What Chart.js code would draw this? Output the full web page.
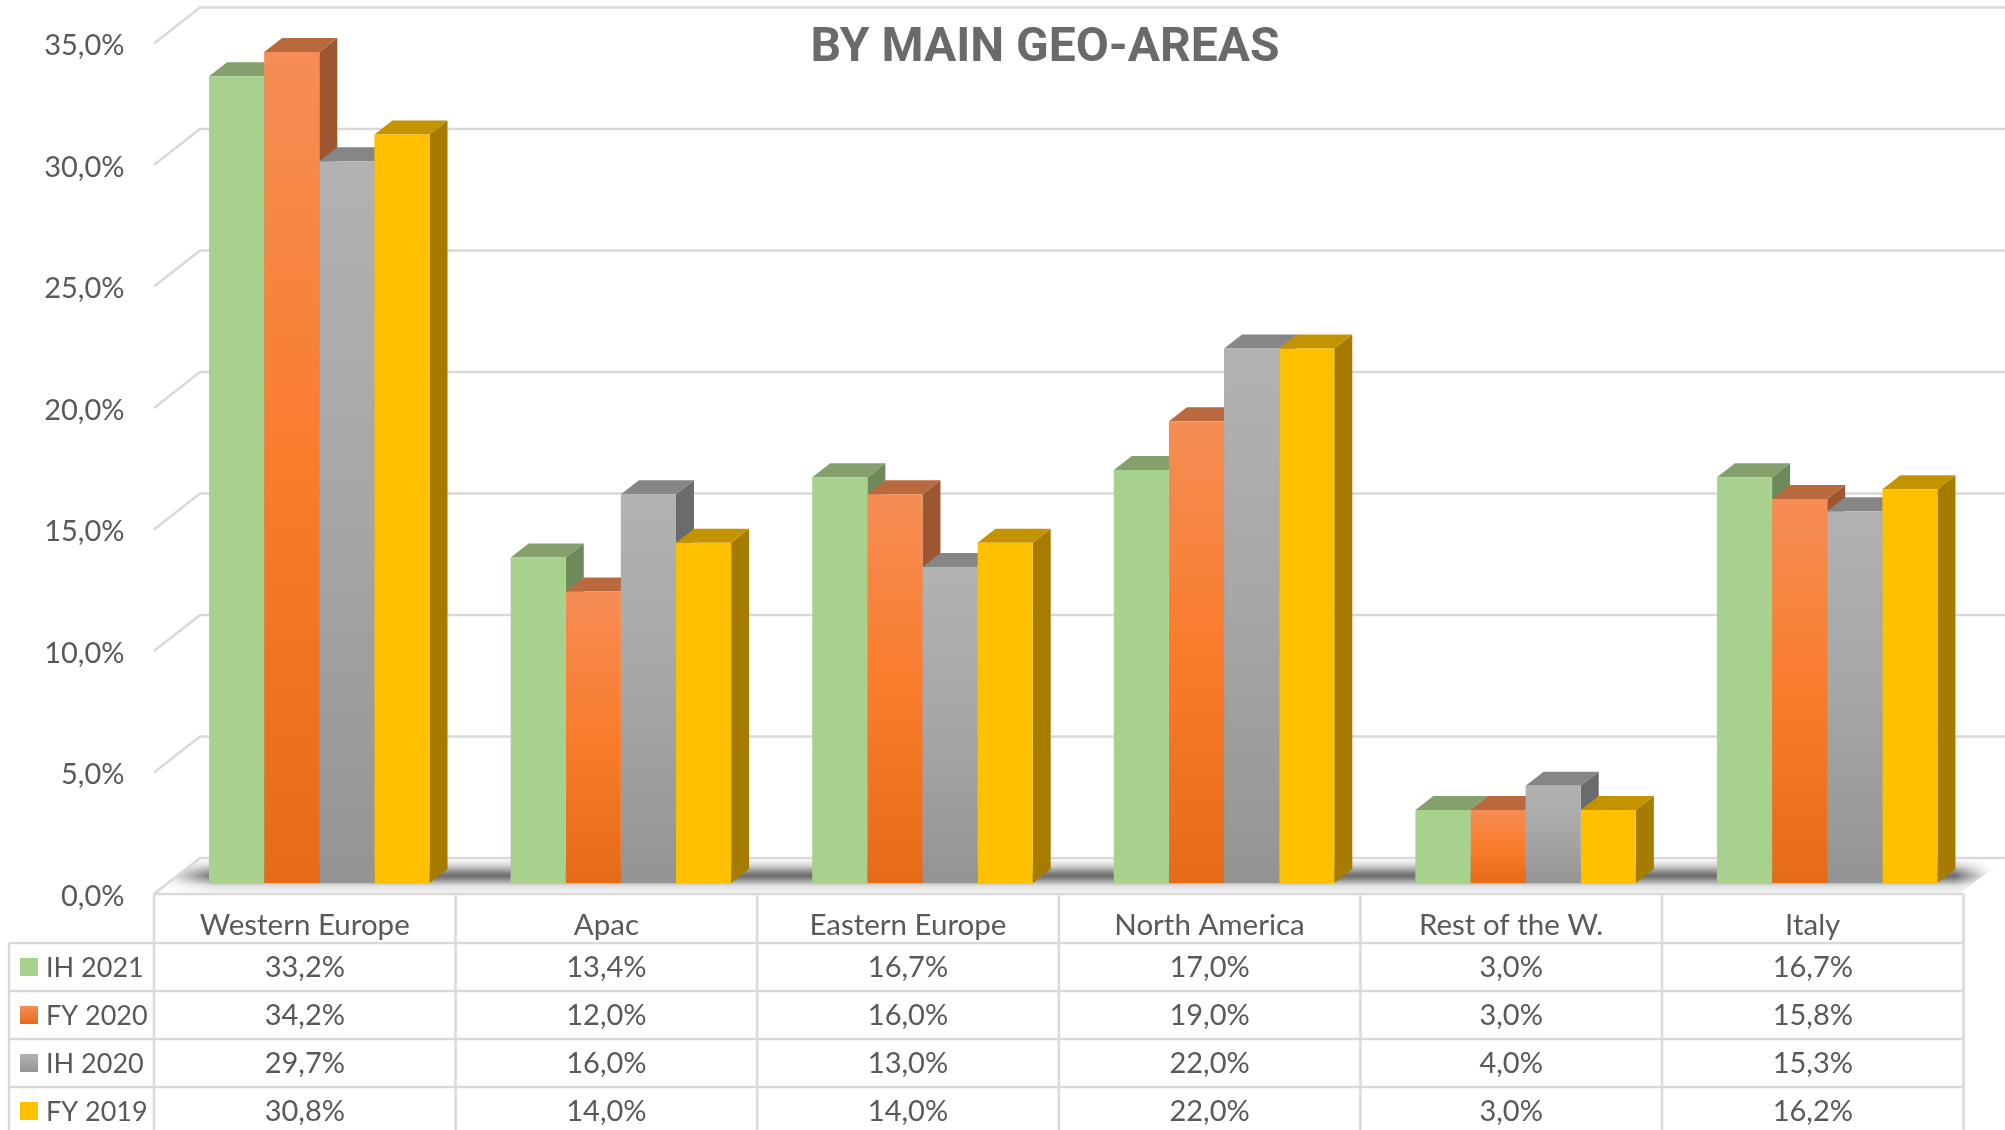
<!DOCTYPE html>
<html><head><meta charset="utf-8">
<style>html,body{margin:0;padding:0;background:#fff}canvas{display:block}</style>
<script src="https://cdn.jsdelivr.net/npm/chart.js@4"></script>
</head><body><canvas id="c" width="2005" height="1130"></canvas>
<script>
const categories = ["Western Europe","Apac","Eastern Europe","North America","Rest of the W.","Italy"];
const seriesNames = ["IH 2021","FY 2020","IH 2020","FY 2019"];
const ih2021 = [33.2,13.4,16.7,17.0,3.0,16.7];
const fy2020 = [34.2,12.0,16.0,19.0,3.0,15.8];
const ih2020 = [29.7,16.0,13.0,22.0,4.0,15.3];
const fy2019 = [30.8,14.0,14.0,22.0,3.0,16.2];
const titleText = "BY MAIN GEO-AREAS";
const colTop = ["#83A06D","#B9693D","#868686","#C49300"];
const colSide = ["#6E8A5A","#9C5730","#6B6B6B","#A67C00"];
const GRID="#D9D9D9", TEXT="#595959";
const FONT='Lato, "Open Sans", sans-serif';
const fmt=v=>v.toFixed(1).replace('.',',')+'%';
const canvas=document.getElementById('c');
const ctx=canvas.getContext('2d');
const gradStops=[null,["#F58D55","#F97C2C","#E46C18"],["#B2B2B2","#A6A6A6","#949494"],null];
const flat=["#A9D18E",null,null,"#FFC000"];
function barFill(i){return (c)=>{
  if(flat[i]) return flat[i];
  if(!c.parsed) return gradStops[i][1];
  const ys=c.chart.scales.y,t=ys.getPixelForValue(c.parsed.y),b=ys.getPixelForValue(0);
  if(!isFinite(t)||!isFinite(b)) return gradStops[i][1];
  const g=c.chart.ctx.createLinearGradient(0,t,0,b);
  g.addColorStop(0,gradStops[i][0]);g.addColorStop(.5,gradStops[i][1]);g.addColorStop(1,gradStops[i][2]);
  return g;};}
const allSeries=[ih2021,fy2020,ih2020,fy2019];
const DX=18,DY=14,PLOT_TOP=32.5,PLOT_BOTTOM=883;
const back3d={id:'back3d',
 afterLayout(ch){
  const ys=ch.scales.y;
  ys.top=PLOT_TOP;ys.bottom=PLOT_BOTTOM;ys.height=PLOT_BOTTOM-PLOT_TOP;ys.configure();
  ch.chartArea.top=PLOT_TOP;ch.chartArea.bottom=PLOT_BOTTOM;ch.chartArea.height=PLOT_BOTTOM-PLOT_TOP;
 },
 beforeDatasetsDraw(ch){
  const c=ch.ctx,ys=ch.scales.y;
  c.save();
  c.beginPath();c.moveTo(154,893);c.lineTo(200,858);c.lineTo(2005,858);c.lineTo(1960,893);c.closePath();c.clip();
  let g=c.createLinearGradient(0,858,0,893);
  [[0,'#ffffff'],[.06,'#f7f7f7'],[.23,'#d0d0d0'],[.4,'#8e8e8e'],[.49,'#6e6e6e'],[.57,'#7c7c7c'],[.69,'#b2b2b2'],[.8,'#e2e2e2'],[1,'#f4f4f4']].forEach(s=>g.addColorStop(s[0],s[1]));
  c.fillStyle=g;c.fillRect(150,858,1855,35);
  g=c.createLinearGradient(165,0,215,0);g.addColorStop(0,'rgba(255,255,255,1)');g.addColorStop(1,'rgba(255,255,255,0)');
  c.fillStyle=g;c.fillRect(150,858,65,35);
  g=c.createLinearGradient(1955,0,1990,0);g.addColorStop(0,'rgba(255,255,255,0)');g.addColorStop(1,'rgba(255,255,255,1)');
  c.fillStyle=g;c.fillRect(1955,858,50,35);
  c.restore();
  c.save();
  c.strokeStyle=GRID;c.lineWidth=2.5;
  ys.ticks.forEach(t=>{const y=ys.getPixelForValue(t.value);
    c.beginPath();c.moveTo(154,y+11);c.lineTo(200,y-25);c.lineTo(2005,y-25);c.stroke();});
  const metas=ch.getSortedVisibleDatasetMetas();
  for(let i=0;i<categories.length;i++){
    metas.forEach((m,s)=>{
      const b=m.data[i],w=b.width,l=b.x-w/2,r=b.x+w/2,t=b.y,bs=b.base;
      c.fillStyle=colSide[s];c.beginPath();c.moveTo(r,t);c.lineTo(r+DX,t-DY);c.lineTo(r+DX,bs-DY);c.lineTo(r,bs);c.closePath();c.fill();
      c.fillStyle=colTop[s];c.beginPath();c.moveTo(l,t);c.lineTo(l+DX,t-DY);c.lineTo(r+DX,t-DY);c.lineTo(r,t);c.closePath();c.fill();
    });
  }
  c.restore();
}};
const table={id:'table',afterDraw(ch){
  const c=ch.ctx;c.save();
  const L=154,CW=301.6,R=L+6*CW,rows=[943,991,1039,1087];
  c.strokeStyle=GRID;c.lineWidth=2.5;
  c.beginPath();c.moveTo(L,894);c.lineTo(R,894);
  rows.forEach(y=>{c.moveTo(9,y);c.lineTo(R,y);});
  for(let k=0;k<=6;k++){c.moveTo(L+k*CW,894);c.lineTo(L+k*CW,1130);}
  c.moveTo(9,943);c.lineTo(9,1130);c.stroke();
  c.fillStyle=TEXT;c.textBaseline='middle';
  rows.forEach((y,r)=>{
    const cy=y+25;
    c.textAlign='center';c.font='29px '+FONT;c.fillStyle=TEXT;
    allSeries[r].forEach((v,k)=>c.fillText(fmt(v),L+(k+.5)*CW,cy));
    c.textAlign='left';c.font='27px '+FONT;c.fillText(seriesNames[r],46,cy);
    const sy=y+15;let f=flat[r];
    if(!f){f=c.createLinearGradient(0,sy,0,sy+18);f.addColorStop(0,gradStops[r][0]);f.addColorStop(1,gradStops[r][2]);}
    c.fillStyle=f;c.fillRect(20,sy,18,18);
  });
  c.font='700 48px Roboto';c.fillStyle='#6A6A6A';c.textAlign='center';c.fillText(titleText,1045,49);
  c.restore();
}};
new Chart(ctx,{type:'bar',
 data:{labels:categories,datasets:allSeries.map((d,i)=>({label:seriesNames[i],data:d,backgroundColor:barFill(i),borderWidth:0,categoryPercentage:.731,barPercentage:1,clip:false}))},
 plugins:[back3d,table],
 options:{responsive:false,animation:false,
  layout:{padding:{top:32.5,right:27,left:0,bottom:0},autoPadding:false},
  plugins:{legend:{display:false},title:{display:false},tooltip:{enabled:false}},
  scales:{
   x:{grid:{display:false},border:{display:false},afterFit(s){s.height=247;},
      ticks:{color:TEXT,font:{family:FONT,size:29.5},padding:17,labelOffset:-14.5,maxRotation:0,autoSkip:false}},
   y:{min:0,max:35,grid:{display:false},border:{display:false},afterFit(s){s.width=168.5;},
      ticks:{stepSize:5,color:TEXT,font:{family:FONT,size:29},padding:36,labelOffset:13.5,callback:v=>fmt(v)}}
  }}});
</script></body></html>
